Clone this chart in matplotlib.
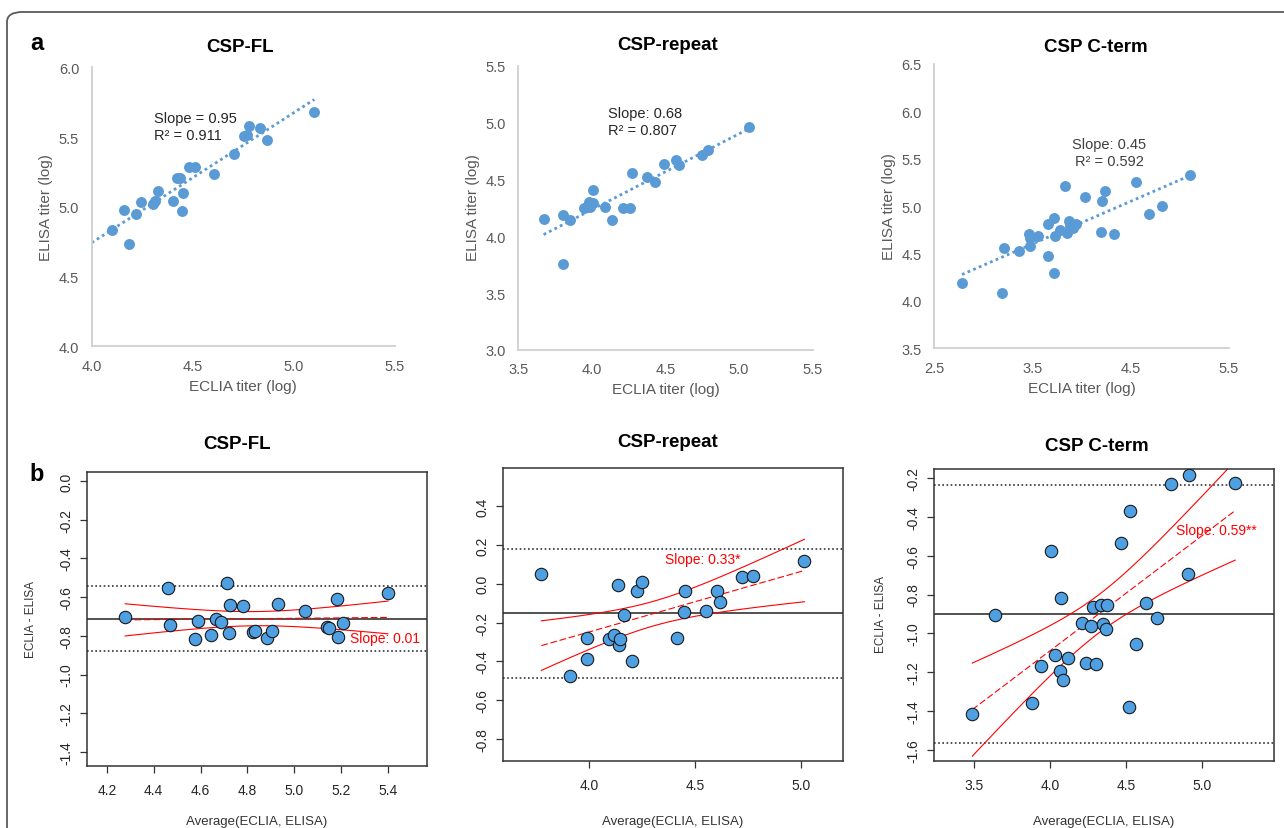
import numpy as np
import matplotlib
matplotlib.use('Agg')
import matplotlib.pyplot as plt
from matplotlib.patches import FancyBboxPatch

plt.rcParams['font.family'] = ['Liberation Sans', 'DejaVu Sans']
plt.rcParams['axes.unicode_minus'] = False

W, H = 1284, 829

# ---- panel a: ELISA vs ECLIA titers (log)
fl_eclia = [4.099, 4.162, 4.185, 4.221, 4.246, 4.305, 4.313, 4.326, 4.404, 4.424, 4.438, 4.452,
            4.448, 4.480, 4.513, 4.607, 4.705, 4.755, 4.767, 4.776, 4.832, 4.869, 5.101]
fl_elisa = [4.836, 4.975, 4.731, 4.946, 5.035, 5.020, 5.039, 5.111, 5.042, 5.204, 5.209, 5.097,
            4.973, 5.286, 5.288, 5.238, 5.376, 5.510, 5.513, 5.582, 5.567, 5.479, 5.680]

rep_eclia = [3.672, 3.801, 3.801, 3.853, 3.946, 3.978, 3.989, 4.005, 4.007, 4.087, 4.136,
             4.211, 4.259, 4.275, 4.374, 4.431, 4.490, 4.571, 4.589, 4.748, 4.791, 5.070]
rep_elisa = [4.149, 4.190, 3.753, 4.140, 4.249, 4.298, 4.254, 4.292, 4.407, 4.254, 4.143,
             4.249, 4.249, 4.559, 4.521, 4.474, 4.633, 4.671, 4.627, 4.712, 4.756, 4.961]

ct_eclia = [2.782, 3.186, 3.206, 3.359, 3.467, 3.474, 3.474, 3.552, 3.657, 3.661, 3.715, 3.722,
            3.732, 3.783, 3.830, 3.851, 3.871, 3.885, 3.915, 3.946, 4.037, 4.193, 4.210, 4.241,
            4.333, 4.557, 4.686, 4.818, 5.100]
ct_elisa = [4.189, 4.084, 4.559, 4.527, 4.710, 4.661, 4.583, 4.682, 4.808, 4.474, 4.875, 4.295,
            4.682, 4.752, 5.209, 4.717, 4.843, 4.794, 4.766, 4.808, 5.097, 4.727, 5.058, 5.160,
            4.710, 5.258, 4.914, 5.005, 5.329]

# ---- panel b: Bland-Altman (average vs difference)
fl_avg = [4.278, 4.463, 4.471, 4.576, 4.588, 4.643, 4.666, 4.686, 4.714, 4.723, 4.727, 4.781,
          4.822, 4.832, 4.885, 4.906, 4.929, 5.045, 5.140, 5.150, 5.183, 5.186, 5.208, 5.400]
fl_diff = [-0.703, -0.551, -0.742, -0.816, -0.725, -0.795, -0.713, -0.730, -0.527, -0.787, -0.642,
           -0.646, -0.778, -0.775, -0.812, -0.776, -0.636, -0.670, -0.754, -0.757, -0.612, -0.806,
           -0.734, -0.577]

rep_avg = [3.775, 3.909, 3.991, 3.991, 4.094, 4.116, 4.135, 4.140, 4.148, 4.167, 4.203,
           4.228, 4.250, 4.415, 4.447, 4.453, 4.553, 4.605, 4.618, 4.723, 4.772, 5.016]
rep_diff = [0.051, -0.473, -0.281, -0.389, -0.284, -0.262, -0.006, -0.315, -0.284, -0.162, -0.399,
            -0.035, 0.010, -0.281, -0.145, -0.038, -0.138, -0.035, -0.093, 0.037, 0.042, 0.115]

ct_avg = [3.489, 3.640, 3.884, 3.941, 4.007, 4.031, 4.064, 4.075, 4.088, 4.118, 4.211, 4.237,
          4.268, 4.281, 4.303, 4.333, 4.351, 4.366, 4.375, 4.465, 4.522, 4.529, 4.566, 4.634,
          4.702, 4.798, 4.910, 4.917, 5.219]
ct_diff = [-1.413, -0.904, -1.358, -1.169, -0.576, -1.109, -1.195, -0.818, -1.238, -1.128, -0.949,
           -1.152, -0.963, -0.863, -1.158, -0.856, -0.952, -0.980, -0.856, -0.537, -1.378, -0.372,
           -1.057, -0.846, -0.920, -0.231, -0.693, -0.186, -0.226]

titles = ['CSP-FL', 'CSP-repeat', 'CSP C-term']
a_text = [['Slope = 0.95', 'R\u00b2 = 0.911'], ['Slope: 0.68', 'R\u00b2 = 0.807'], ['Slope: 0.45', 'R\u00b2 = 0.592']]
b_text = ['Slope: 0.01', 'Slope: 0.33*', 'Slope: 0.59**']

# t quantiles (0.975) for the confidence band
t975 = {20: 2.086, 22: 2.074, 27: 2.052}

fig = plt.figure(figsize=(W / 100, H / 100), dpi=100)


def add_ax(l, t, r, b):
    return fig.add_axes([l / W, 1 - b / H, (r - l) / W, (b - t) / H])


def ftext(x, y, s, **kw):
    fig.text(x / W, 1 - y / H, s, **kw)


def fmt(vals):
    # round so that 0 doesn't show as -0.0
    return ['%.1f' % (round(v, 1) + 0.0) for v in vals]


# rounded frame around the figure
frame = FancyBboxPatch((7 / W, -0.05), 1.2, 1 - 13 / H + 0.05,
                       boxstyle='round,pad=0,rounding_size=0.012', transform=fig.transFigure,
                       fill=False, edgecolor='#5a5a5a', lw=1.3)
fig.patches.append(frame)

ftext(37, 44, 'a', fontsize=17, fontweight='bold', ha='center', va='center')
ftext(37, 475, 'b', fontsize=17, fontweight='bold', ha='center', va='center')

# ---------------- row a (Excel style scatter)
a_data = [(fl_eclia, fl_elisa), (rep_eclia, rep_elisa), (ct_eclia, ct_elisa)]
a_rects = [(91.7, 68.3, 395, 347.3), (518.3, 66.7, 812.7, 351), (934.3, 65, 1229, 349.3)]
a_xlim = [(4.0, 5.5), (3.5, 5.5), (2.5, 5.5)]
a_ylim = [(4.0, 6.0), (3.0, 5.5), (3.5, 6.5)]
a_xticks = [np.arange(4.0, 5.51, 0.5), np.arange(3.5, 5.51, 0.5), np.arange(2.5, 5.51, 1.0)]
a_yticks = [np.arange(4.0, 6.01, 0.5), np.arange(3.0, 5.51, 0.5), np.arange(3.5, 6.51, 0.5)]
trend_from = [4.0, None, None]
a_title_xy = [(240, 47), (668, 46), (1096, 47)]
a_xlab_xy = [(243, 387), (666, 390), (1082, 389)]
a_ylab_xy = [(46, 208), (473, 208), (889, 207)]
a_txt_xy = [(154, 119, 'left'), (608, 114, 'left'), (1109, 145, 'center')]

blue = '#5B9BD5'
for i in range(3):
    x, y = np.array(a_data[i][0]), np.array(a_data[i][1])
    ax = add_ax(*a_rects[i])
    ax.scatter(x, y, s=62, color=blue, zorder=3, linewidths=0)
    k, b0 = np.polyfit(x, y, 1)
    x0 = trend_from[i] if trend_from[i] is not None else x.min()
    xs = np.array([x0, x.max()])
    ax.plot(xs, k * xs + b0, ls=(0, (1, 1.2)), lw=2.0, color=blue, zorder=2)
    ax.set_xlim(*a_xlim[i])
    ax.set_ylim(*a_ylim[i])
    ax.set_xticks(a_xticks[i])
    ax.set_yticks(a_yticks[i])
    ax.set_xticklabels(fmt(a_xticks[i]))
    ax.set_yticklabels(fmt(a_yticks[i]))
    for s in ['top', 'right']:
        ax.spines[s].set_visible(False)
    for s in ['left', 'bottom']:
        ax.spines[s].set_color('#D0D0D0')
        ax.spines[s].set_linewidth(1.3)
    ax.tick_params(length=0, labelcolor='#595959', labelsize=10.5)
    ax.tick_params(axis='x', pad=9)
    ax.tick_params(axis='y', pad=9)
    ax.patch.set_alpha(0)

    ftext(*a_title_xy[i], titles[i], fontsize=13.5, fontweight='bold', ha='center', va='center')
    ftext(*a_xlab_xy[i], 'ECLIA titer (log)', fontsize=11, color='#595959', ha='center', va='center')
    ftext(*a_ylab_xy[i], 'ELISA titer (log)', fontsize=11, color='#595959', ha='center', va='center',
          rotation=90)
    tx, ty, ha = a_txt_xy[i]
    col = '#262626' if i < 2 else '#404040'
    ftext(tx, ty, a_text[i][0], fontsize=10.5, color=col, ha=ha, va='center')
    ftext(tx, ty + 17, a_text[i][1], fontsize=10.5, color=col, ha=ha, va='center')

# ---------------- row b (R style Bland-Altman)
b_data = [(fl_avg, fl_diff), (rep_avg, rep_diff), (ct_avg, ct_diff)]
b_rects = [(87, 473, 427, 767), (503, 469, 843, 762), (934, 470, 1274, 762)]
b_xlim = [(4.115, 5.567), (3.594, 5.198), (3.237, 5.474)]
b_ylim = [(-1.472, 0.0465), (-0.913, 0.596), (-1.657, -0.154)]
b_xticks = [np.arange(4.2, 5.41, 0.2), np.arange(4.0, 5.01, 0.5), np.arange(3.5, 5.01, 0.5)]
b_yticks = [np.arange(-1.4, 0.01, 0.2), np.arange(-0.8, 0.41, 0.2), np.arange(-1.6, -0.19, 0.2)]
b_title_xy = [(237, 445), (668, 443), (1097, 447)]
b_xlab_xy = [(257, 822), (673, 822), (1104, 822)]
b_ylab_xy = [(31, 620), None, (881, 615)]
b_txt_xy = [(5.386, -0.811), (4.538, 0.127), (5.092, -0.467)]

for i in range(3):
    x, y = np.array(b_data[i][0]), np.array(b_data[i][1])
    ax = add_ax(*b_rects[i])
    n = len(x)
    md, sd = y.mean(), y.std(ddof=1)
    ax.axhline(md, color='#333333', lw=1.2, zorder=1)
    for lim in (md + 1.96 * sd, md - 1.96 * sd):
        ax.axhline(lim, color='#333333', lw=1.2, ls=(0, (1, 1.5)), zorder=1)

    k, b0 = np.polyfit(x, y, 1)
    xs = np.linspace(x.min(), x.max(), 100)
    yh = k * xs + b0
    res = y - (k * x + b0)
    s = np.sqrt((res ** 2).sum() / (n - 2))
    sxx = ((x - x.mean()) ** 2).sum()
    half = t975[n - 2] * s * np.sqrt(1 / n + (xs - x.mean()) ** 2 / sxx)
    ax.plot(xs, yh, color='red', lw=0.8, ls=(0, (6, 2.5)), zorder=2)
    ax.plot(xs, yh + half, color='red', lw=0.8, zorder=2)
    ax.plot(xs, yh - half, color='red', lw=0.8, zorder=2)

    ax.scatter(x, y, s=80, color='#4F9FE3', edgecolor='#1a1a1a', linewidths=0.8, zorder=3)
    ax.text(*b_txt_xy[i], b_text[i], color='red', fontsize=10, ha='center', va='center', zorder=4)

    ax.set_xlim(*b_xlim[i])
    ax.set_ylim(*b_ylim[i])
    ax.set_xticks(b_xticks[i])
    ax.set_yticks(b_yticks[i])
    ax.set_xticklabels(fmt(b_xticks[i]))
    ax.set_yticklabels(fmt(b_yticks[i]), rotation=90, va='center')
    for sp in ax.spines.values():
        sp.set_color('#333333')
        sp.set_linewidth(1.1)
    ax.tick_params(direction='out', length=5, width=0.9, color='#333333', labelsize=10,
                   labelcolor='#262626')
    ax.tick_params(axis='x', pad=7)
    ax.tick_params(axis='y', pad=5)

    ftext(*b_title_xy[i], titles[i], fontsize=13.5, fontweight='bold', ha='center', va='center')
    ftext(*b_xlab_xy[i], 'Average(ECLIA, ELISA)', fontsize=9.5, color='#333333', ha='center', va='center')
    if b_ylab_xy[i] is not None:
        ftext(*b_ylab_xy[i], 'ECLIA - ELISA', fontsize=8.5, color='#333333', ha='center', va='center',
              rotation=90)

fig.savefig('out.png', dpi=100)
